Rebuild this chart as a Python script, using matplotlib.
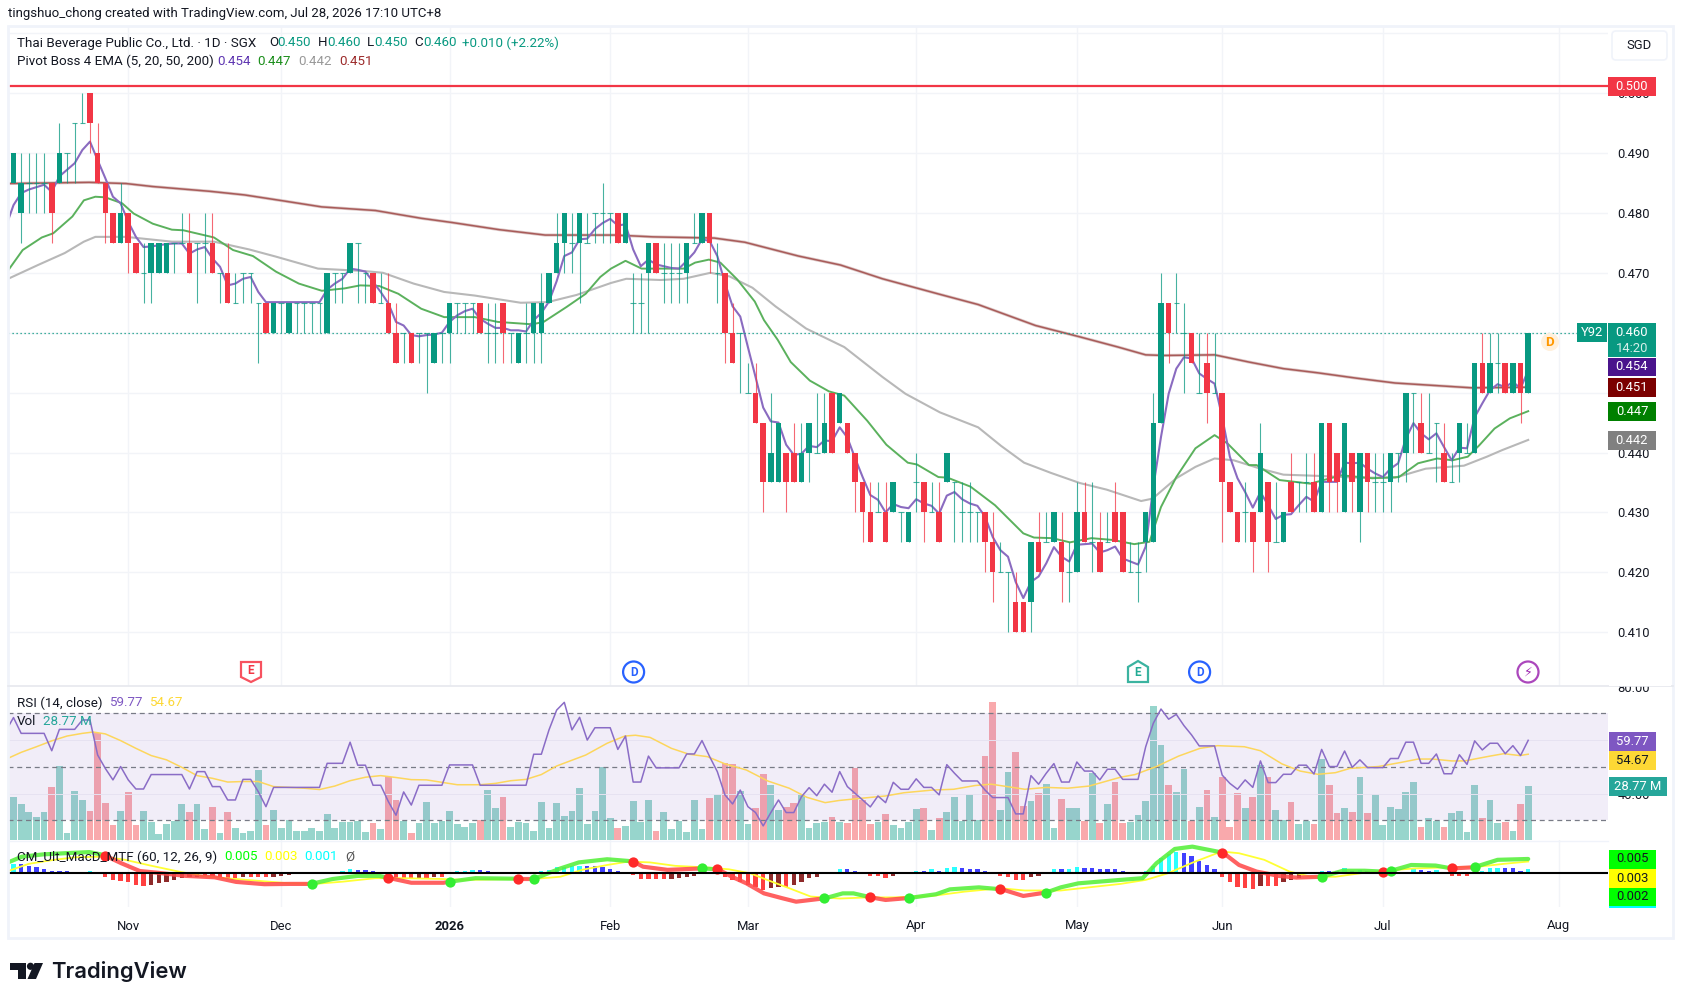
import numpy as np
import matplotlib
matplotlib.use("Agg")
import matplotlib.pyplot as plt
from matplotlib.patches import Rectangle, Circle, Polygon

plt.rcParams['font.family'] = ['Roboto', 'DejaVu Sans']

# candles, in 0.001 SGD
opens = [485,485,480,485,485,485,485,485,490,495, 495,500,490,485,480,475,480,475,470,470,
         470,470,475,475,475,475,475,475,470,470, 465,470,470,465,465,460,465,460,465,465,
         465,465,460,470,470,470,475,470,470,465, 465,460,460,460,460,460,455,460,460,465,
         465,465,465,460,460,465,460,455,460,460, 460,465,470,475,475,475,475,480,480,480,
         480,475,465,465,470,475,470,470,470,470, 475,475,480,470,470,460,460,450,450,445,
         435,435,440,440,435,440,440,440,450,445, 445,440,435,430,430,430,430,430,425,435,
         435,430,430,435,435,430,430,430,430,425, 420,420,415,415,415,425,425,425,425,420,
         420,430,425,425,425,430,430,420,420,425, 425,445,465,465,460,460,450,455,450,450,
         435,430,430,430,430,435,425,425,435,435, 435,435,430,445,440,430,440,430,440,435,
         435,435,440,440,450,445,440,445,440,435, 440,440,440,455,450,455,455,450,455,450]
closes = [480,490,485,485,485,485,480,490,490,495, 495,495,485,480,475,480,475,470,470,475,
          475,475,475,475,470,475,475,470,470,465, 465,470,470,465,460,465,465,465,465,465,
          465,465,470,470,470,475,475,470,465,465, 460,455,460,455,460,460,460,460,465,465,
          465,465,460,460,460,460,460,460,460,465, 465,470,475,480,475,480,475,480,480,480,
          475,480,465,465,475,470,470,470,470,475, 475,480,475,470,460,455,460,450,445,435,
          440,445,435,435,440,445,440,445,440,450, 440,435,430,425,430,425,435,430,430,435,
          430,430,425,440,435,430,430,430,425,420, 420,420,410,410,425,420,425,430,420,420,
          430,425,425,420,425,425,420,420,420,430, 445,465,460,465,460,455,450,450,450,435,
          430,425,430,425,440,425,425,430,430,435, 435,430,445,435,435,445,435,440,435,435,
          435,440,440,450,450,440,440,445,435,435, 445,440,455,450,455,455,450,455,450,460]
highs = [485,490,490,490,490,490,485,495,490,495, 500,500,495,485,480,485,480,475,475,475,
         475,475,475,480,480,475,480,480,470,475, 470,470,470,465,465,465,465,465,465,465,
         465,465,470,470,470,475,475,470,470,470, 470,465,460,460,460,460,460,460,465,465,
         465,465,465,465,465,465,460,460,465,465, 470,470,480,480,480,480,480,480,485,480,
         480,480,470,470,475,475,475,475,475,475, 480,480,480,475,470,465,460,455,455,445,
         450,445,440,445,445,445,450,450,450,450, 445,440,435,435,435,435,435,430,430,440,
         435,435,435,440,435,435,435,430,430,430, 425,420,420,415,425,430,430,430,430,425,
         435,435,435,430,430,435,430,425,425,430, 450,470,465,470,465,460,460,460,460,450,
         435,430,435,430,445,435,435,430,440,435, 440,440,445,445,440,445,440,440,440,440,
         440,440,440,450,450,450,450,445,445,440, 445,445,455,460,460,460,455,455,455,460]
lows = [480,485,475,480,480,480,475,485,485,485, 495,490,485,475,475,475,470,470,465,465,
        470,470,470,475,470,465,470,470,465,465, 465,465,465,455,460,460,460,460,460,460,
        460,460,460,465,465,470,465,465,465,465, 460,455,455,455,455,450,455,455,455,460,
        460,460,460,455,455,455,455,455,455,455, 455,465,470,470,470,465,475,475,475,475,
        475,475,460,460,460,470,465,465,465,465, 475,475,470,465,455,455,450,450,445,430,
        435,435,430,435,435,435,440,440,440,445, 440,430,425,425,430,425,430,425,425,430,
        425,430,425,435,425,425,425,425,420,415, 420,410,410,410,410,420,425,425,415,415,
        420,425,420,420,425,425,420,420,415,420, 425,445,455,460,450,455,450,445,450,425,
        430,425,425,420,430,420,425,425,430,430, 430,430,430,430,430,430,430,425,430,430,
        430,430,435,435,440,440,440,435,435,435, 435,440,440,450,450,450,450,450,445,450]

ema5 = [.4777,.4813,.4833,.4839,.4843,.4847,.4835,.4861,.4872,.4883,.4905,.4919,.4888,.4858,.4827,.4816,.4785,.476,.4743,.4744,
        .4746,.4748,.4749,.4749,.4732,.4739,.4743,.4724,.471,.4679,.4682,.469,.4693,.4668,.4651,.4651,.4651,.4651,.4651,.4651,
        .4651,.4651,.4672,.4682,.469,.4707,.4705,.4702,.4685,.4668,.4649,.4618,.4612,.4596,.4594,.4596,.4597,.46,.4618,.4629,
        .4636,.464,.4623,.4615,.4608,.4608,.4604,.4604,.4602,.4621,.4633,.4652,.4686,.4728,.4734,.4756,.4757,.4773,.4783,.479,
        .4779,.4781,.4739,.4711,.4722,.4714,.4711,.4708,.4707,.472,.4734,.4756,.4753,.4728,.4683,.4644,.4627,.4576,.4526,.4475,
        .4452,.445,.4413,.4396,.4398,.4411,.4409,.442,.4419,.4442,.4425,.4391,.4359,.4329,.4321,.43,.4314,.4309,.4307,.4322,
        .4315,.4311,.4298,.4328,.4334,.4322,.4315,.4311,.4293,.4259,.4237,.4226,.4184,.4157,.4184,.4193,.4215,.4242,.4226,.4218,
        .4246,.4247,.4248,.4233,.4237,.4243,.4223,.4218,.4213,.4243,.4343,.4426,.4498,.454,.4559,.4557,.4532,.4523,.4515,.4459,
        .4393,.4357,.4334,.4308,.4334,.4312,.4289,.4296,.4297,.4312,.4326,.4318,.4351,.4351,.4351,.4383,.4382,.4383,.4373,.4365,
        .4359,.4373,.4382,.4423,.4449,.4432,.4422,.4432,.4409,.4387,.4408,.4407,.4459,.4482,.4504,.4514,.4509,.4518,.4507,.4537]

ema20_idx = [.3,2.2,4.7,6.2,8.7,10.2,11.7,13,15.2,16.7,19.2,21.7,23.2,27.2,29.7,32.3,35.3,38.3,41.3,44.3,46.3,48.8,51.3,54.3,57.3,61.3,64.3,68.8,70.3,73.3,75.8,77.7,
             79.1,81,83.1,85.6,88.6,90.1,91.9,93.4,95.6,97.9,99.1,100.9,102.6,105.1,107.6,109.6,112.6,115.1,117.9,119.1,121.9,123.1,126.1,129.3,133,134.4,136.8,139.1,141.9,144.7,147.5,149.5,
             151,153,155.5,158,159.7,162.5,163.5,166.5,170.5,174.6,178.6,182.1,184.6,187.1,189.1,191.1,192.6,194.6,196.6,199]
ema20 = [.4704,.4738,.4759,.4766,.4794,.4821,.4827,.4826,.4816,.4799,.4782,.4772,.4771,.4759,.4738,.4728,.4702,.4682,.467,.4674,.4679,.4678,.4665,.464,.4626,.4626,.4618,.4614,.4618,.4643,.4665,.4693,
         .4707,.472,.4707,.4707,.4707,.4717,.4722,.4717,.4689,.4652,.4621,.4588,.4551,.452,.4502,.4495,.4453,.4413,.4383,.438,.4359,.4358,.4343,.4312,.4265,.4258,.4257,.425,.4257,.4254,.4247,.4251,
         .4309,.4359,.4407,.4429,.4415,.4379,.4379,.4354,.4348,.4362,.4357,.4359,.4382,.439,.4387,.4393,.4412,.444,.4457,.4469]
ema50_idx = [.3,4.2,7.7,10.2,11.7,15.7,21.7,27.2,31.8,35.3,40.8,46.8,49.3,53.3,57.3,61.3,67.3,70.8,74.6,79.1,81.1,85.6,88.6,92.1,94.6,97.6,100.6,104.6,109.6,114.6,117.6,122.1,127.1,130.1,133.1,136.6,
             140.4,143.9,148.4,149.9,153,155.5,158,160.5,164,167,171.5,176.6,181.6,185.6,190.6,193.6,195.6,199]
ema50 = [.469,.4713,.4733,.4752,.476,.476,.4752,.4752,.4739,.4727,.4707,.4703,.47,.4682,.4668,.4662,.465,.4651,.4663,.4683,.469,.4688,.469,.47,.4694,.4675,.4644,.4607,.4576,.4526,.4498,.4467,.4442,.4411,.4383,.4366,
         .4349,.4338,.4319,.4323,.4357,.4376,.439,.4387,.4373,.4363,.4361,.4358,.4358,.4373,.4378,.4393,.4404,.4421]
ema200_idx = [.3,10.9,15.7,19.2,26.7,31.2,36.3,41.3,48.3,54.3,58.3,64.5,70.5,79.6,84.6,92.6,96.6,103.6,109.1,114.6,122.1,127.1,134.6,140.4,145.4,149,151.4,158,162.5,167,171.5,176.6,181.6,186.6,191.6,199]
ema200 = [.4849,.4851,.4849,.4844,.4836,.483,.482,.481,.4804,.4791,.4784,.4772,.4763,.4763,.476,.4758,.4751,.4728,.4713,.469,.4664,.4647,.4612,.4593,.4576,.4563,.4562,.4563,.4551,.454,.4533,.4524,.4516,.4512,.4508,.4509]
resistance = .5012
last_price = .46

# RSI, one value per bar
rsi = [63.4,68.4,62.5,62.5,62.5,62.5,56,64,64,64,67.5,67.5,54.4,49.4,45.1,50.1,45.1,41.7,41.7,47.1,
       47.1,47.1,47.1,47.1,41.7,48.2,48.2,42.6,42.6,37.6,37.6,45.3,45.3,40.7,35.1,42.3,42.3,42.3,42.3,42.3,
       42.3,42.3,51.3,51.3,51.3,59.2,50.6,50.6,43.1,43.1,37,31.9,40.6,35.7,43.1,43.1,43.1,43.1,50.7,50.7,
       50.7,50.7,43.1,43.1,43.1,43.1,43.1,43.1,43.1,54.7,54.7,63.8,71.2,
       74.1,63.8,68.5,60,64.6,64.6,64.6,56.5,61.5,44.3,44.3,54,49.6,49.6,49.6,49.6,54.8,54.8,59.8,53.8,48.2,39.5,36.1,41.3,35.1,32.9,
       27.9,32.9,37.6,32.9,32.9,38.8,42.2,39.2,43.5,40.5,48.2,42.6,40.1,37.6,35,39.1,36.6,44.2,41.6,41.6,45.5,42.3,42.3,39.5,50.8,47.6,
       44.7,44.7,44.7,41.3,38.5,38.5,38.5,32.4,32.4,46.7,43.5,47.6,51.2,44.3,44.3,51.8,48.4,48.4,45.1,49.1,49.1,
       45.3,45.3,45.3,57.5,66.3,71.6,67.8,69.6,65.4,61.9,57.8,57.8,57.8,46.9,43.8,41.6,45.1,42.3,52.2,44.1,44.1,47.2,47.2,50.6,50.6,47.3,56.5,
       50.1,50.1,55.9,49.8,52.6,49.7,49.7,49.7,53.1,53.1,59.2,59.2,51.3,51.3,54.8,47.4,47.4,54.5,50.9,59.7,56.3,58.8,58.8,54.9,57.9,54.2,59.9]
rsi_ma_idx = [.3,2,4,6,8,10,11.4,13,15,17,19,21,23,25,27,29,31,33,35,37,39,41,43,45,47,49,51,53,55,57,59,62,64,66,68,70,72,
              75.8,78.6,80.9,82.3,84.2,87,89.3,91.7,94,96.8,99.6,102.4,104.7,107.1,108.9,111.7,115,117.4,121.1,123.9,126.7,128.8,130.9,133.2,136,138.8,141.6,145.7,
              147.6,150.4,153.3,156.1,158.4,161.9,164,166.8,169.2,171.5,173.8,175.7,179.4,182.3,184.6,186.5,189,190.7,194,195.8,197.9,199]
rsi_ma = [53.2,55.4,57.5,59.7,61.5,62.5,63,62.3,59.8,56.9,54.2,52.6,49.8,46.7,45.7,44.3,44.5,44.5,42.6,42.3,42,41.5,42.8,44.8,46.1,46.7,46,45.2,45.1,44.2,43.3,43.3,43.8,44.8,45.3,47.1,50.3,
          54.4,58.8,61.5,61.8,61,56.9,54.7,53.8,51.1,48.8,44.7,42,38.6,36.6,37.4,38.2,39.1,40.3,41.3,41.6,43,43.5,42.6,41.6,42.3,42,42.8,46.1,
          47.1,50.1,54,56.9,57.9,57.5,56,51.1,48.4,47.2,47.8,49.4,50.1,51.6,52.9,52.9,52.2,52.2,54,54.9,54.2,54.7]

# volume in millions
volume = [16,23.1,19,14.7,12.4,14.7,28.4,39.4,3.6,26.1,21.3,15.5,56.8,19.5,8,15.5,25.4,8,15.5,9.8,3.2,8.5,10.1,19,14.9,19,6,17.8,3.7,14.9,6.6,3.7,4.8,37.1,7.8,16,6.6,10.7,4.8,4.8,
          6.6,4.8,13.7,6.6,9.8,9.8,10.3,4.3,8.9,6,33.7,21.3,10.1,3.7,8.9,20.1,8.9,10.3,15.5,8.5,7.1,8.9,10.7,26.6,17.2,23.1,7.1,9.8,8.9,4.8,20.1,6.6,19.5,
          13,15.5,27.5,8.5,15.5,38.7,11.9,6.6,7.3,20.8,9.8,21.3,4.8,14.9,6,10.1,4.3,21.3,6,22.6,24.3,40.8,40.5,26.1,8.5,17.2,35.2,29.3,16,17.8,19.5,24,6.6,8.9,9.8,12.4,9.8,8.9,38.5,21.3,8.5,
          9.8,13.7,7.8,6.6,9.8,16.5,17.2,5.3,11.9,14.7,23.1,10.1,24.3,10.7,44.8,73.3,16,36.4,47.1,18.3,20.8,24.9,29.8,6.6,21.8,17.2,17.2,10.1,35.5,8.9,19,31.1,
          8.9,9.8,13.3,20.8,71.6,50.6,29.3,25.4,37.7,10.1,17.8,26.6,12.4,33.7,7.1,24.9,17.2,23.1,40,33.7,16,10.7,20.1,8.5,10.1,8.5,43,29.3,14.2,17.2,14.9,33.7,14.2,24.3,7.8,17.8,16.5,25.4,31.1,7.1,
          11.9,10.1,7.1,14.2,15.5,4.3,29.3,11.9,21.3,8.9,9.6,4.8,19,28.8]

# CM_Ult_MacD
macd_idx = [.3,2.1,4.9,7.7,10.9,12.8,15.1,17.5,19.8,23.5,27.3,30.1,33.8,37.1,39.9,42.7,46,48.8,50.2,53,57.2,58.1,61.4,67,69.1,70.7,72.5,
            74.9,78.6,81.4,82.1,83.3,86.5,91,93.1,94.9,96.8,99.1,101.5,103.3,107.1,109.4,110.8,113.1,115,118.1,121.6,123.4,127.2,130.2,133,136,137.9,140.2,145.7,
            148.6,150.4,152.8,155.1,159.1,161.2,163.5,166.4,168.7,172,174.8,177.6,179.9,181.1,183.7,186.9,189,191.9,195,199]
macd = [.0038,.0058,.0066,.007,.0074,.0064,.0035,.0008,.0002,-.0009,-.0014,-.003,-.0038,-.0037,-.0037,-.002,-.0009,-.0009,-.0017,-.0033,-.0033,-.0029,-.0017,-.0019,-.0019,-.0002,.0017,
        .0038,.0049,.0043,.004,.0023,.0012,.0017,.0014,-.0012,-.0035,-.007,-.0087,-.0099,-.0087,-.007,-.007,-.0084,-.0093,-.0086,-.0073,-.0056,-.0049,-.0056,-.0079,-.0067,-.0049,-.0035,-.0023,
        -.0017,.0035,.0085,.0093,.0072,.0029,.0006,-.0009,-.0015,-.0012,.0009,.0009,.0006,.0009,.0029,.0027,.0017,.0021,.0047,.005]
signal_idx = [.3,3,6.3,9.1,12.8,15.6,18.9,22.6,26.3,30.1,33.8,37.1,40.4,44.1,48.3,52,57.2,60,64.6,69.3,72.5,
              75.3,78.6,81.4,84.2,87.5,91.2,94.5,97.3,100.1,102.4,105.2,109,112.7,116,121.1,125.3,130,133.2,137.9,141.6,145.7,
              149,151.9,155.1,158.9,161.2,164.5,167.8,170.6,173.8,177.6,180.4,184.1,188.8,192.5,195.8,199]
signal = [.0008,.0033,.0047,.0056,.0058,.0047,.0027,.0006,-.0012,-.002,-.0028,-.0035,-.0037,-.0029,-.0017,-.0017,-.002,-.0023,-.0021,-.0019,-.0012,
          .0012,.0029,.0041,.0038,.0026,.0021,.0014,0,-.0029,-.0052,-.0081,-.0088,-.0084,-.0084,-.0079,-.0064,-.0052,-.006,-.006,-.0049,-.0037,
          -.0023,0,.0037,.0076,.007,.0047,.0006,-.0012,-.0012,.0002,.0009,.0017,.0021,.0023,.0033,.0041]
hist = [.003,.0034,.0033,.0027,.0021,.0016,.0009,.0008,.0007,.0005,.0006,.0007,0,-.0013,-.0023,-.0027,-.0029,-.0041,-.0044,-.0041,
        -.0033,-.0029,-.0023,-.0017,-.0014,-.0012,-.0012,-.0012,-.0013,-.0017,-.0017,-.0012,-.0012,-.0012,-.0014,-.0012,-.0009,-.0006,-.0003,0,
        0,.0001,.0006,.0006,.0008,.0014,.0013,.001,.0008,0,-.0017,-.0017,-.0017,-.002,-.0017,-.0017,-.0012,-.0012,0,.0007,
        .0008,.0012,.001,.0007,0,0,0,0,.0002,.0004,.0007,.0012,.0021,
        .0023,.0026,.0027,.0026,.0024,.0021,.0016,.0009,.0005,-.0006,-.0019,-.0019,-.002,-.002,-.0019,-.0015,-.0012,-.0008,0,0,
        0,-.0014,-.0023,-.0029,-.0041,-.0047,-.0058,-.0053,-.0047,-.0047,-.0042,-.0031,-.0017,-.0012,0,.0005,.0014,.0014,.0009,0,
        -.0008,-.0009,-.0016,-.0008,0,0,.0009,.0009,.0014,.0009,.0019,.0021,.0017,.0014,.0014,.0007,0,-.0008,-.0012,-.0023,
        -.0023,-.0012,-.0009,0,.0014,.0014,.0015,.0021,.002,.0017,.0014,.0014,.0014,
        .0009,.0006,0,.0009,.0026,.0052,.0067,.0073,.0072,.006,.0044,.0029,.0014,-.0012,
        -.0029,-.0047,-.005,-.0055,-.0043,-.0043,-.0043,-.0029,-.0023,-.0016,-.0004,0,.0009,.0009,.0009,.0017,.0009,.0012,.0009,0,
        0,0,0,.0001,.0017,.0012,.0009,.001,0,-.0008,-.0008,-.0008,0,.0009,.0017,.0018,.0017,.0017,.0009,.0014]
cross_up = [40,58,69,91,107,118,136,172,181,192]
cross_down = [13,50,67,82,93,113,130,159,180,189]

# axis labels
month_pos = [16,36,58,79,97,119,140,159,180,203]
month_labels = ['Nov','Dec','2026','Feb','Mar','Apr','May','Jun','Jul','Aug']
price_labelled = [.41,.42,.43,.44,.47,.48,.49,.50]
price_grid = [.45,.46,.51]
rsi_labelled = [80,40]
rsi_grid = [60]

TEAL = '#089981'
RED = '#F23645'
INK = '#131722'
GRID = '#F2F4F8'
FS = 9.4
LEG = 9.6
W, H = 1682, 1000
LEFT, RIGHT = 8.4, 1608
x = np.arange(200)
xlim = (1 + (LEFT - 13.5) / 7.65, 1 + (RIGHT - 13.5) / 7.65)

o = np.array(opens) / 1000
c = np.array(closes) / 1000
hi = np.array(highs) / 1000
lo = np.array(lows) / 1000
vol = np.array(volume)
hh = np.array(hist)

fig = plt.figure(figsize=(W / 100, H / 100), dpi=100, facecolor='white')

def px_axes(top, bottom, zorder=1):
    a = fig.add_axes([LEFT / W, 1 - bottom / H, (RIGHT - LEFT) / W, (bottom - top) / H], zorder=zorder)
    a.set_xlim(*xlim)
    a.patch.set_alpha(0)
    for s in a.spines.values():
        s.set_visible(False)
    a.set_xticks(month_pos)
    a.tick_params(length=0, labelbottom=False, labelleft=False)
    a.grid(axis='x', color=GRID, lw=1)
    a.set_axisbelow(True)
    return a

# price panel
ax = px_axes(26, 686, 2)
ax.set_ylim(.46 - (686 - 332.7) / 5990, .46 + (332.7 - 26) / 5990)
ax.yaxis.tick_right()
ax.set_yticks(price_labelled + price_grid)
ax.set_yticklabels(['%.3f' % t for t in price_labelled] + [''] * len(price_grid))
ax.tick_params(axis='y', length=0, pad=7, labelsize=FS, labelcolor=INK, labelright=True)
ax.grid(axis='y', color=GRID, lw=1)

ax.plot(ema200_idx, ema200, color='#DCC6C5', lw=2.2, zorder=2, solid_capstyle='round')
ax.plot(ema200_idx, ema200, color='#A85B59', lw=1.1, zorder=2)
ax.plot(ema50_idx, ema50, color='#B8B8B8', lw=1.5, zorder=2)
ax.plot(ema20_idx, ema20, color='#5BB15D', lw=1.4, zorder=2)
ax.plot(x, ema5, color='#8A6BC0', lw=1.5, zorder=2)

colors = np.where(c < o, RED, TEAL)
ax.vlines(x, lo, hi, colors=colors, lw=0.8, zorder=3, alpha=0.75)
body = np.abs(c - o)
ax.bar(x, body, bottom=np.minimum(o, c), width=0.72, color=colors, zorder=4, linewidth=0)
flat = body == 0
ax.hlines(o[flat], x[flat] - .36, x[flat] + .36, colors=colors[flat], lw=0.8, zorder=3, alpha=.75)
ax.axhline(last_price, color=TEAL, lw=0.9, ls=(0, (1, 2.2)), zorder=2)
ax.axhline(resistance, color=RED, lw=1.6, zorder=5)

# volume sits under the RSI in the same pane
ax_vol = px_axes(686, 840, 2)
ax_vol.set_ylim(0, 154 / 1.877)
ax_vol.grid(False)
vcol = np.where(c < o, '#F77C80', '#5FBFB1')
ax_vol.bar(x, vol, width=.88, color=vcol, alpha=.65, linewidth=0)

ax_rsi = px_axes(686, 840, 3)
ax_rsi.set_ylim(30 - 19.7 / 2.675, 30 + 134.3 / 2.675)
ax_rsi.yaxis.tick_right()
ax_rsi.set_yticks(rsi_labelled + rsi_grid)
ax_rsi.set_yticklabels(['%.2f' % t for t in rsi_labelled] + [''] * len(rsi_grid))
ax_rsi.tick_params(axis='y', length=0, pad=7, labelsize=FS, labelcolor=INK, labelright=True)
ax_rsi.grid(False)
ax_rsi.axhspan(30, 70, color='#7E57C2', alpha=.1, lw=0)
for lev in [60, 40]:
    ax_rsi.axhline(lev, color='#E6E2F1', lw=.7)
for lev in [70, 50, 30]:
    ax_rsi.axhline(lev, color='#787B86', lw=.9, ls=(0, (4, 3)))
ax_rsi.plot(rsi_ma_idx, rsi_ma, color='#FDD65C', lw=1.1)
ax_rsi.plot(x, rsi, color='#8A6CC6', lw=1.1)

# MACD pane
ax_m = px_axes(840, 907, 3)
ax_m.set_ylim(-33.7 / 2867, 33.3 / 2867)
hcol = []
for i, v in enumerate(hist):
    rising = i > 0 and v > hist[i - 1]
    if v >= 0:
        hcol.append('#2BFFFF' if rising else '#4040FF')
    else:
        hcol.append('#8E2A2A' if rising else '#FF4040')
ax_m.bar(x, hh, width=.55, color=hcol, linewidth=0, zorder=2)
ax_m.plot(signal_idx, signal, color='#FFFF33', lw=1.3, zorder=3)

# fast line changes colour at every cross
crosses = sorted([(i, '#55F03A') for i in cross_up] + [(i, '#FF4B4B') for i in cross_down])
starts = [.3] + [k for k, _ in crosses]
ends = [k for k, _ in crosses] + [199]
seg_col = ['#55F03A'] + [col for _, col in crosses]
for a0, a1, col in zip(starts, ends, seg_col):
    keep = [(i, v) for i, v in zip(macd_idx, macd) if a0 < i < a1]
    xs = [a0] + [p[0] for p in keep] + [a1]
    ys = list(np.interp(xs, macd_idx, macd))
    ax_m.plot(xs, ys, color=col, lw=3.0, alpha=.88, zorder=4, solid_capstyle='round')
for i, col in crosses:
    ax_m.plot(i, np.interp(i, macd_idx, macd), 'o', ms=7.4, color='#33EE33' if col == '#55F03A' else '#FF2A2A', mec='none', zorder=5)
ax_m.axhline(0, color='black', lw=1.5, zorder=6)
ax_m.set_xticklabels(month_labels)
ax_m.tick_params(axis='x', labelbottom=True, labelsize=FS, labelcolor=INK, pad=9)
ax_m.get_xticklabels()[2].set_fontweight('bold')

# overlay in figure pixels for legends, tags and badges
ov = fig.add_axes([0, 0, 1, 1], zorder=10)
ov.set_xlim(0, W)
ov.set_ylim(H, 0)
ov.axis('off')
ov.patch.set_alpha(0)

def label(px, py, s, color=INK, size=LEG, ha='left', weight='normal', **kw):
    ov.text(px, py, s, color=color, fontsize=size, ha=ha, va='center', fontweight=weight, **kw)

def tag(x0, y0, x1, y1, bg, s=None, fg='white', tx=None):
    ov.add_patch(Rectangle((x0, y0), x1 - x0, y1 - y0, fc=bg, ec='none', zorder=3))
    if s:
        ov.text(tx if tx else (x0 + x1) / 2, (y0 + y1) / 2, s, color=fg, fontsize=FS, ha='center', va='center', zorder=4)

ov.add_patch(Rectangle((8, 26), 1665, 912, fc='none', ec='#F0F3FA', lw=2))
ov.plot([LEFT, 1673], [686, 686], color='#E6E8EE', lw=1.2)
ov.plot([LEFT, 1608], [841, 841], color='#F0F3FA', lw=1)
ov.add_patch(Rectangle((1609, 676), 62, 9.5, fc='white', ec='none', zorder=2))

label(8, 13, 'tingshuo_chong created with TradingView.com, Jul 28, 2026 17:10 UTC+8', size=9.55)
label(16.8, 43, 'Thai Beverage Public Co., Ltd. · 1D · SGX')
for px, s, col in [(269, 'O', INK), (277.5, '0.450', TEAL), (318, 'H', INK), (327, '0.460', TEAL), (366.6, 'L', INK),
                   (374, '0.450', TEAL), (414, 'C', INK), (423, '0.460', TEAL), (462, '+0.010 (+2.22%)', TEAL)]:
    label(px, 43, s, col)
label(16.8, 61.5, 'Pivot Boss 4 EMA (5, 20, 50, 200)')
for px, s, col in [(217, '0.454', '#5E35B1'), (257.6, '0.447', '#1B8E1B'), (298.5, '0.442', '#999999'), (339.5, '0.451', '#9C2B2B')]:
    label(px, 61.5, s, col)

label(16.8, 703, 'RSI (14, close)')
label(109, 703, '59.77', '#7E57C2')
label(149, 703, '54.67', '#FDD835')
label(16.8, 721.7, 'Vol')
label(43, 721.7, '28.77 M', '#26A69A')
label(16.8, 857, 'CM_Ult_MacD_MTF (60, 12, 26, 9)')
label(224, 857, '0.005', '#00FF00')
label(264, 857, '0.003', '#FFFF00')
label(304.6, 857, '0.001', '#00FFFF')
label(345.7, 857, 'Ø', '#555555')

# SGD button and price tags
ov.add_patch(matplotlib.patches.FancyBboxPatch((1615, 34), 49, 23, boxstyle='round,pad=3,rounding_size=4', fc='white', ec='#F0F3FA', lw=1.2))
label(1639.5, 45.5, 'SGD', ha='center', size=FS)
tag(1608, 77, 1656, 96, RED, '0.500')
tag(1577, 323, 1607, 342, TEAL, 'Y92')
tag(1608, 323, 1656, 357, TEAL)
label(1632, 333, '0.460', 'white', size=FS, ha='center', zorder=5)
label(1632, 348, '14:20', '#D5EEE9', size=FS, ha='center', zorder=5)
tag(1608, 358, 1656, 376, '#4A148C', '0.454')
tag(1608, 378, 1656, 397, '#7B0000', '0.451')
tag(1608, 402, 1656, 421, '#008000', '0.447')
tag(1608, 431, 1656, 450, '#808080', '0.442')
tag(1609, 732, 1656, 751, '#7E57C2', '59.77')
tag(1609, 751, 1656, 769.5, '#FDD835', '54.67', INK)
tag(1609, 777, 1667, 796, '#26A69A', '28.77 M')
tag(1609, 849.5, 1656, 868.5, '#00FF00', '0.005', INK)
tag(1609, 868.5, 1656, 887.5, '#FFFF00', '0.003', INK)
tag(1609, 887.5, 1656, 905.5, '#00FF00', '0.002', INK)
tag(1609, 905.5, 1656, 907.5, '#00FFFF')

# event badges
ov.add_patch(Circle((1550, 342), 9, fc='#FFF0DC', ec='none'))
label(1550, 342, 'D', '#FF9800', size=9.5, ha='center', weight='bold')
ov.add_patch(Polygon([(241, 662), (261, 662), (261, 677), (251, 682), (241, 677)], closed=True, fc='white', ec='#F7525F', lw=1.6))
label(251, 671, 'E', '#F23645', size=8.5, ha='center', weight='bold')
ov.add_patch(Polygon([(1128, 667), (1138, 661), (1148, 667), (1148, 682), (1128, 682)], closed=True, fc='white', ec='#3BB3A0', lw=1.6))
label(1138, 673, 'E', '#22AB94', size=8.5, ha='center', weight='bold')
for cx in [633.6, 1199.6]:
    ov.add_patch(Circle((cx, 672), 10.5, fc='white', ec='#2962FF', lw=1.6))
    label(cx, 672, 'D', '#2962FF', size=8.5, ha='center', weight='bold')
ov.add_patch(Circle((1528, 672), 10.5, fc='white', ec='#AB47BC', lw=1.6))
ov.text(1528, 672, '\u26a1', color='#9C27B0', fontsize=9, ha='center', va='center', family='DejaVu Sans')

# TradingView mark
ov.add_patch(Polygon([(10, 963), (25.7, 963), (25.7, 979), (18, 979), (18, 970), (10, 970)], closed=True, fc=INK, ec='none'))
ov.add_patch(Circle((30.5, 966.3), 3.6, fc=INK, ec='none'))
ov.add_patch(Polygon([(43, 963), (36, 979), (27.5, 979), (34.5, 963)], closed=True, fc=INK, ec='none'))
ov.text(51, 971, 'TradingView', color=INK, fontsize=15.8, ha='left', va='center', family='Inter', fontweight='semibold')

fig.savefig('out.png', dpi=100)
